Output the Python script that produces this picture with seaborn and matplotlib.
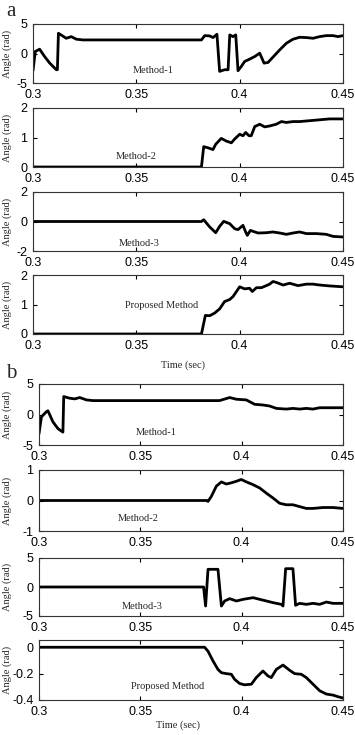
import numpy as np
import pandas as pd
import matplotlib
matplotlib.use('Agg')
import matplotlib.pyplot as plt
import seaborn as sns

# ---- panel a ----
a1_t = [0.3000, 0.3011, 0.3032, 0.3056, 0.3081, 0.3113, 0.3118, 0.3123, 0.3161, 0.3185, 0.3210, 0.3242,
        0.3815, 0.3831, 0.3855, 0.3871, 0.3890, 0.3903, 0.3927, 0.3944, 0.3952, 0.3968, 0.3981, 0.3992,
        0.4008, 0.4024, 0.4048, 0.4073, 0.4097, 0.4118, 0.4137, 0.4161, 0.4194, 0.4226, 0.4258, 0.4290,
        0.4323, 0.4355, 0.4387, 0.4419, 0.4452, 0.4476, 0.4500]
a1_v = [-2.92, 0.34, 0.73, -0.51, -1.63, -2.75, -2.75, 3.43, 2.58, 2.86, 2.42, 2.30,
        2.30, 3.03, 2.98, 2.70, 3.26, -3.03, -2.75, -2.75, 3.15, 2.86, 3.15, -2.92,
        -2.19, -1.35, -0.96, -0.51, 0.06, -1.63, -1.52, -0.62, 0.62, 1.74, 2.42, 2.75,
        2.70, 2.58, 2.86, 3.03, 3.03, 2.86, 3.03]

a2_t = [0.3000, 0.3815, 0.3826, 0.3847, 0.3871, 0.3884, 0.3911, 0.3935, 0.3960, 0.3976, 0.4000, 0.4016,
        0.4029, 0.4045, 0.4056, 0.4073, 0.4097, 0.4121, 0.4145, 0.4177, 0.4202, 0.4226, 0.4258, 0.4290,
        0.4339, 0.4387, 0.4435, 0.4500]
a2_v = [0, 0, 0.69, 0.65, 0.59, 0.77, 0.97, 0.88, 0.82, 0.95, 1.11, 1.06,
        1.17, 1.06, 1.06, 1.37, 1.45, 1.36, 1.39, 1.45, 1.54, 1.51, 1.54, 1.54,
        1.57, 1.60, 1.63, 1.63]

a3_t = [0.3000, 0.3815, 0.3826, 0.3855, 0.3884, 0.3903, 0.3923, 0.3952, 0.3976, 0.3992, 0.4016, 0.4029,
        0.4037, 0.4052, 0.4065, 0.4089, 0.4129, 0.4161, 0.4194, 0.4226, 0.4258, 0.4290, 0.4323, 0.4371,
        0.4419, 0.4452, 0.4500]
a3_v = [0, 0, 0.12, -0.37, -0.76, -0.33, 0.01, -0.15, -0.49, -0.55, -0.26, -0.71,
        -0.94, -0.60, -0.67, -0.78, -0.76, -0.71, -0.78, -0.87, -0.78, -0.71, -0.82, -0.82,
        -0.87, -1.01, -1.05]

a4_t = [0.3000, 0.3815, 0.3834, 0.3855, 0.3879, 0.3903, 0.3927, 0.3952, 0.3968, 0.4000, 0.4024, 0.4048,
        0.4061, 0.4081, 0.4105, 0.4129, 0.4145, 0.4161, 0.4177, 0.4210, 0.4242, 0.4282, 0.4323, 0.4355,
        0.4387, 0.4435, 0.4500]
a4_v = [0, 0, 0.63, 0.62, 0.71, 0.85, 1.10, 1.17, 1.27, 1.60, 1.53, 1.55,
        1.44, 1.57, 1.57, 1.64, 1.69, 1.78, 1.75, 1.66, 1.72, 1.64, 1.69, 1.69,
        1.66, 1.63, 1.60]

# ---- panel b ----
b1_t = [0.3000, 0.3012, 0.3036, 0.3044, 0.3069, 0.3094, 0.3118, 0.3122, 0.3151, 0.3176, 0.3201, 0.3234,
        0.3266, 0.3891, 0.3941, 0.3974, 0.4023, 0.4064, 0.4105, 0.4138, 0.4171, 0.4220, 0.4253, 0.4286,
        0.4319, 0.4352, 0.4385, 0.4500]
b1_v = [-3.17, -0.39, 0.44, 0.61, -1.22, -2.33, -2.89, 2.94, 2.67, 2.56, 2.78, 2.39,
        2.28, 2.28, 2.78, 2.50, 2.39, 1.67, 1.56, 1.39, 1.00, 0.89, 1.00, 0.89,
        1.00, 0.89, 1.11, 1.11]

b2_t = [0.3000, 0.3826, 0.3834, 0.3850, 0.3875, 0.3900, 0.3924, 0.3949, 0.3974, 0.3998, 0.4023, 0.4056,
        0.4089, 0.4122, 0.4155, 0.4187, 0.4220, 0.4253, 0.4286, 0.4319, 0.4352, 0.4401, 0.4451, 0.4500]
b2_v = [0, 0, -0.03, 0.13, 0.47, 0.61, 0.54, 0.58, 0.63, 0.69, 0.61, 0.52,
        0.41, 0.24, 0.08, -0.09, -0.14, -0.14, -0.20, -0.26, -0.26, -0.23, -0.23, -0.26]

b3_t = [0.3000, 0.3812, 0.3822, 0.3834, 0.3883, 0.3900, 0.3916, 0.3941, 0.3974, 0.4007, 0.4056, 0.4089,
        0.4122, 0.4155, 0.4196, 0.4204, 0.4217, 0.4253, 0.4266, 0.4286, 0.4319, 0.4352, 0.4385, 0.4418,
        0.4451, 0.4500]
b3_v = [0, 0, -3.28, 3.05, 3.05, -3.28, -2.41, -2.01, -2.41, -2.13, -1.84, -2.13,
        -2.41, -2.70, -2.99, -3.28, 3.16, 3.16, -3.16, -2.82, -2.99, -2.82, -2.99, -2.59,
        -2.82, -2.82]

b4_t = [0.3000, 0.3817, 0.3834, 0.3859, 0.3883, 0.3900, 0.3924, 0.3949, 0.3965, 0.3990, 0.4014, 0.4048,
        0.4072, 0.4105, 0.4130, 0.4146, 0.4171, 0.4204, 0.4237, 0.4261, 0.4294, 0.4319, 0.4352, 0.4385,
        0.4418, 0.4451, 0.4475, 0.4500]
b4_v = [0, 0, -0.030, -0.105, -0.168, -0.193, -0.200, -0.205, -0.243, -0.275, -0.285, -0.280,
        -0.230, -0.180, -0.218, -0.230, -0.168, -0.135, -0.175, -0.200, -0.205, -0.230, -0.280, -0.330,
        -0.355, -0.363, -0.375, -0.385]

xticks = [0.3, 0.35, 0.4, 0.45]
xticklabels = ['0.3', '0.35', '0.4', '0.45']

sns.set_style('ticks')
plt.rcParams['font.family'] = ['Liberation Sans', 'DejaVu Sans']

W, H = 355, 735
fig = plt.figure(figsize=(W / 100, H / 100), dpi=100)
serif = ['Liberation Serif', 'DejaVu Serif']

# (t, v, ylim, yticks, label, label pos, left, top, bottom)
panels = [
    (a1_t, a1_v, (-5, 5), [-5, 0, 5], 'Method-1', (0.387, 0.21), 33, 24, 83),
    (a2_t, a2_v, (0, 2), [0, 1, 2], 'Method-2', (0.333, 0.18), 33, 108, 167),
    (a3_t, a3_v, (-2, 2), [-2, 0, 2], 'Method-3', (0.344, 0.135), 33, 192, 251),
    (a4_t, a4_v, (0, 2), [0, 1, 2], 'Proposed Method', (0.416, 0.49), 33, 275, 334),
    (b1_t, b1_v, (-5, 5), [-5, 0, 5], 'Method-1', (0.386, 0.21), 39, 384, 445),
    (b2_t, b2_v, (-1, 1), [-1, 0, 1], 'Method-2', (0.326, 0.21), 39, 470, 531),
    (b3_t, b3_v, (-5, 5), [-5, 0, 5], 'Method-3', (0.34, 0.16), 39, 558, 616),
    (b4_t, b4_v, (-0.4, 0.055), [-0.4, -0.2, 0], 'Proposed Method', (0.424, 0.22), 39, 640, 700),
]

for t, v, ylim, yt, lab, lpos, left, top, bottom in panels:
    ax = fig.add_axes([left / W, 1 - bottom / H, (343 - left) / W, (bottom - top) / H])
    df = pd.DataFrame({'t': t, 'v': v})
    sns.lineplot(data=df, x='t', y='v', ax=ax, color='black', linewidth=2,
                 estimator=None, sort=False)
    ax.set_xlim(0.3, 0.45)
    ax.set_ylim(*ylim)
    ax.set_xticks(xticks)
    ax.set_xticklabels(xticklabels)
    ax.set_yticks(yt)
    ax.set_yticklabels(['%g' % y for y in yt])
    ax.tick_params(direction='in', top=True, right=True, length=3, width=0.8,
                   labelsize=9, colors='black')
    ax.tick_params(axis='x', pad=4.5)
    ax.tick_params(axis='y', pad=4)
    for s in ax.spines.values():
        s.set_linewidth(0.8)
        s.set_color('#333333')
    ax.set_xlabel('')
    ax.set_ylabel('Angle (rad)', family=serif, fontsize=7.5)
    ax.yaxis.set_label_coords((12 - left) / (343 - left), 0.5)
    ax.text(lpos[0], lpos[1], lab, transform=ax.transAxes, ha='center', va='center',
            family=serif, fontsize=7.5)

fig.text(6 / W, 1 - 12 / H, 'a', family=serif, fontsize=15, ha='left', va='center')
fig.text(6 / W, 1 - 373 / H, 'b', family=serif, fontsize=15, ha='left', va='center')
fig.text(183 / W, 1 - 365 / H, 'Time (sec)', family=serif, fontsize=7.5, ha='center', va='center')
fig.text(178 / W, 1 - 725 / H, 'Time (sec)', family=serif, fontsize=7.5, ha='center', va='center')

fig.savefig('out.png', dpi=100)
